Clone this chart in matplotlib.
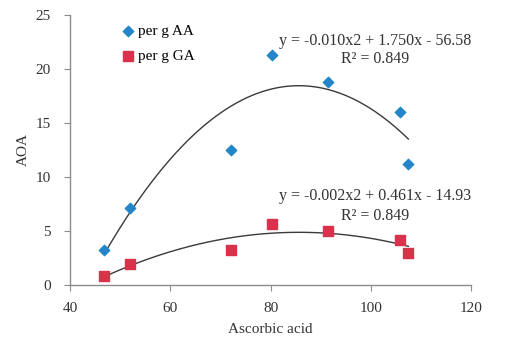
import numpy as np
import matplotlib
matplotlib.use("Agg")
import matplotlib.pyplot as plt

plt.rcParams.update({
    "font.family": "Liberation Serif",
    "font.size": 11,
})

# ---- data ----
acid = [46.8, 52.0, 72.2, 80.2, 91.5, 105.9, 107.5]
aoa_aa = [3.2, 7.15, 12.5, 21.3, 18.8, 16.0, 11.2]
aoa_ga = [0.85, 1.9, 3.27, 5.66, 4.98, 4.2, 3.0]

eq_aa = "y = -0.010x2 + 1.750x - 56.58\nR² = 0.849"
eq_ga = "y = -0.002x2 + 0.461x - 14.93\nR² = 0.849"

C_AA = "#2386c8"
C_GA = "#d8334a"
C_AX = "#8c8c8c"
C_TXT = "#333333"

fig = plt.figure(figsize=(5.22, 3.39), dpi=100)
ax = fig.add_axes([70 / 522, 1 - 285 / 339, 401 / 522, 270 / 339])

ax.scatter(acid, aoa_aa, marker="D", s=28, color=C_AA, label="per g AA", zorder=3)
ax.scatter(acid, aoa_ga, marker="s", s=55, color=C_GA, label="per g GA", zorder=3)

# quadratic trendlines over the data range
xs = np.linspace(min(acid), max(acid), 200)
for ys in (aoa_aa, aoa_ga):
    c = np.polyfit(acid, ys, 2)
    ax.plot(xs, np.polyval(c, xs), color="#3a3a3a", lw=1.0, zorder=2)

ax.set_xlim(40, 120)
ax.set_ylim(0, 25)
ax.set_xticks([40, 60, 80, 100, 120])
ax.set_yticks([0, 5, 10, 15, 20, 25])

for s in ("top", "right"):
    ax.spines[s].set_visible(False)
for s in ("left", "bottom"):
    ax.spines[s].set_color(C_AX)
    ax.spines[s].set_linewidth(1.0)
ax.tick_params(colors=C_AX, labelcolor=C_TXT, length=4, labelsize=11)
ax.tick_params(axis="y", pad=10)
ax.tick_params(axis="x", pad=8)

ax.set_xlabel("Ascorbic acid", color=C_TXT, labelpad=6)
ax.set_ylabel("AOA", color=C_TXT, labelpad=4)

ax.legend(loc="upper left", bbox_to_anchor=(0.10, 1.0), frameon=False,
          handletextpad=0.0, handlelength=1.2, borderaxespad=0.2,
          labelspacing=0.75, fontsize=11)

# trendline equations, placed in figure coordinates
fig.text(375 / 522, 1 - 50 / 339, eq_aa, ha="center", va="center",
         fontsize=11.5, color=C_TXT, linespacing=1.15)
fig.text(375 / 522, 1 - 206 / 339, eq_ga, ha="center", va="center",
         fontsize=11.5, color=C_TXT, linespacing=1.35)

fig.savefig("out.png", dpi=100, facecolor="white")
